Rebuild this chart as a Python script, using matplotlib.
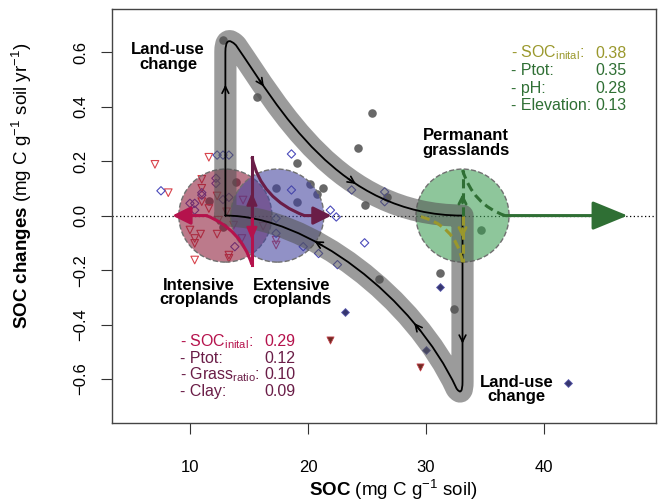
import numpy as np
import matplotlib
matplotlib.use('Agg')
import matplotlib.pyplot as plt
from matplotlib.path import Path
from matplotlib.patches import PathPatch
from math import comb

plt.rcParams['font.family'] = ['Liberation Sans', 'DejaVu Sans']
plt.rcParams['mathtext.fontset'] = 'custom'
plt.rcParams['mathtext.rm'] = 'Liberation Sans'
plt.rcParams['mathtext.it'] = 'Liberation Sans:italic'
plt.rcParams['mathtext.bf'] = 'Liberation Sans:bold'

# --- data -----------------------------------------------------------------
# permanent grasslands (filled grey dots)
grass_soc = [12.8, 15.7, 25.4, 24.2, 19.1, 20.2, 21.3, 20.8, 17.3, 19.1, 13.9,
             11.6, 12.8, 24.8, 26.7, 34.7, 31.2, 32.4, 26.0]
grass_dsoc = [0.644, 0.435, 0.376, 0.248, 0.193, 0.116, 0.101, 0.079, 0.101, 0.050,
              0.123, 0.053, -0.042, 0.039, 0.068, -0.053, -0.211, -0.343, -0.233]

# intensive croplands (open triangles) + two filled outliers
int_soc = [7.03, 11.6, 8.16, 11.0, 11.0, 12.3, 11.0, 11.6, 10.0, 10.9, 10.4, 10.4,
           12.3, 13.3, 13.3, 10.4, 14.5, 14.4, 17.3, 17.3, 13.7, 13.1, 16.2, 12.4]
int_dsoc = [0.188, 0.214, 0.084, 0.133, 0.100, 0.072, 0.051, 0.026, -0.053, -0.068,
            -0.084, -0.102, -0.068, -0.145, -0.157, -0.163, 0.057, -0.084, -0.090,
            -0.108, -0.035, 0.014, -0.039, -0.017]
int_out_soc = [21.9, 29.5]
int_out_dsoc = [-0.457, -0.556]

# extensive croplands (open diamonds) + filled outliers
ext_soc = [12.3, 12.8, 13.3, 7.54, 18.6, 11.0, 11.0, 12.2, 12.2, 10.0, 10.4, 10.4,
           12.8, 13.3, 18.6, 21.9, 22.4, 17.3, 17.3, 19.6, 20.9, 13.8, 23.7, 26.5,
           26.5, 24.8, 22.5]
ext_dsoc = [0.222, 0.222, 0.222, 0.091, 0.226, 0.084, 0.075, 0.137, 0.118, 0.045,
            0.045, 0.020, 0.059, 0.067, 0.094, 0.020, -0.005, -0.010, -0.065, -0.114,
            -0.139, -0.114, 0.094, 0.087, 0.051, -0.100, -0.180]
ext_out_soc = [31.2, 23.1, 30.0, 42.0]
ext_out_dsoc = [-0.262, -0.355, -0.494, -0.615]

# group centres (intensive, extensive, grassland)
centre_soc = [13.0, 17.4, 33.1]
centre_dsoc = [0.0, 0.0, 0.0]

# land-use change loop (schematic path nodes)
loop_soc = [13.0, 13.0, 13.0, 13.9, 17.5, 22.5, 33.1, 33.1, 33.1, 32.6, 29.0, 20.0, 13.0]
loop_dsoc = [0.0, 0.60, 0.665, 0.625, 0.40, 0.0, 0.0, -0.61, -0.665, -0.635, -0.30, 0.0, 0.0]

# variable importance
crop_vars = ['- SOC$_{\\mathrm{inital}}$:', '- Ptot:', '- Grass$_{\\mathrm{ratio}}$:', '- Clay:']
crop_imp = [0.29, 0.12, 0.10, 0.09]
grass_vars = ['- SOC$_{\\mathrm{inital}}$:', '- Ptot:', '- pH:', '- Elevation:']
grass_imp = [0.38, 0.35, 0.28, 0.13]

CRIMSON = '#b5124c'
MAROON = '#6a1d47'
GREEN = '#2f6f34'
OLIVE = '#9a982c'

fig = plt.figure(figsize=(6.61, 5.04), dpi=100)
ax = fig.add_axes([112/661, 81/504, 544/661, 414/504])
ax.set_xlim(3.39, 49.5)
ax.set_ylim(-0.761, 0.758)

ax.axhline(0, color='black', lw=0.9, ls=(0, (1, 2)), zorder=1)

# points
ax.scatter(grass_soc, grass_dsoc, s=38, color='#4d4d4d', alpha=0.85, lw=0, zorder=2)
ax.scatter(int_soc, int_dsoc, s=30, marker='v', facecolor='none', edgecolor='#d8434c', lw=0.8, zorder=2)
ax.scatter(int_out_soc, int_out_dsoc, s=26, marker='v', facecolor='#6e2b22', edgecolor='#c0404a', lw=0.6, zorder=2)
ax.scatter(ext_soc, ext_dsoc, s=18, marker='D', facecolor='none', edgecolor='#4b4bbb', lw=0.8, zorder=2)
ax.scatter(ext_out_soc, ext_out_dsoc, s=16, marker='D', facecolor='#36366e', edgecolor='#5c5cb0', lw=0.6, zorder=2)

# group circles
circle_cols = [(0.55, 0.10, 0.22, 0.58), (0.26, 0.26, 0.62, 0.58), (0.24, 0.62, 0.33, 0.58)]
ax.scatter(centre_soc, centre_dsoc, s=(2 * 33.5) ** 2, c=circle_cols, edgecolors='#707070',
           linewidths=1.0, linestyles='--', zorder=3)

# land-use change loop
codes = [Path.MOVETO, Path.LINETO, Path.CURVE3, Path.CURVE3, Path.CURVE4, Path.CURVE4,
         Path.CURVE4, Path.LINETO, Path.CURVE3, Path.CURVE3, Path.CURVE4, Path.CURVE4, Path.CURVE4]
loop = Path(np.column_stack([loop_soc, loop_dsoc]), codes)
ax.add_patch(PathPatch(loop, fill=False, lw=16, edgecolor=(0.33, 0.33, 0.33, 0.58),
                       capstyle='round', joinstyle='round', zorder=4))
ax.add_patch(PathPatch(loop, fill=False, lw=1.3, edgecolor='black',
                       capstyle='round', joinstyle='round', zorder=5))


def bez(p, t):
    p = np.asarray(p, dtype=float)
    n = len(p) - 1
    return sum(comb(n, k) * (1 - t) ** (n - k) * t ** k * p[k] for k in range(n + 1))


def chevron(ctrl, t, color='black', lw=1.2, ms=12, dt=0.03, z=6, style='->'):
    a = bez(ctrl, t - dt)
    b = bez(ctrl, t)
    ax.annotate('', xy=b, xytext=a,
                arrowprops=dict(arrowstyle=style, color=color, lw=lw, mutation_scale=ms,
                                shrinkA=0, shrinkB=0), zorder=z)


pts = list(zip(loop_soc, loop_dsoc))
chevron([pts[0], pts[1]], 0.8)
chevron(pts[3:7], 0.2)
chevron(pts[3:7], 0.66)
chevron([pts[6], pts[7]], 0.77)
chevron(pts[9:13], 0.25)
chevron(pts[9:13], 0.66)


def curve(ctrl, color, ls='-', lw=2.2, z=7):
    p = Path(ctrl, [Path.MOVETO] + [Path.CURVE3] * (len(ctrl) - 1))
    ax.add_patch(PathPatch(p, fill=False, lw=lw, edgecolor=color, ls=ls, capstyle='butt', zorder=z))


def arrow(a, b, color, lw=2.2, hl=0.8, hw=0.45, ms=14, ls='-', z=7):
    ax.annotate('', xy=b, xytext=a,
                arrowprops=dict(arrowstyle=f'-|>,head_length={hl},head_width={hw}', color=color,
                                lw=lw, ls=ls, mutation_scale=ms, shrinkA=0, shrinkB=0), zorder=z)


# croplands importance fans
xv = 15.25
ax.plot([xv, xv], [0, -0.18], color=CRIMSON, lw=2.2, zorder=7)
arrow((xv, 0), (xv, -0.09), CRIMSON, lw=1.6, hl=0.75, hw=0.32, ms=10)
curve([(xv, -0.18), (14.3, -0.05), (11.4, 0.0)], CRIMSON)
arrow((11.4, 0), (8.5, 0), CRIMSON, hl=0.85, hw=0.42, ms=13)

ax.plot([xv, xv], [0, 0.215], color=MAROON, lw=2.2, zorder=7)
arrow((xv, 0), (xv, 0.085), MAROON, lw=1.6, hl=0.75, hw=0.32, ms=10)
curve([(xv, 0.215), (16.0, 0.06), (19.7, 0.0)], MAROON)
arrow((19.7, 0), (22.0, 0), MAROON, hl=0.85, hw=0.42, ms=13)

# grassland importance fans
xg = 33.1
ax.plot([xg, xg], [0, 0.167], color=GREEN, lw=2.2, ls=(0, (3, 1.6)), zorder=7)
chevron([(xg, 0), (xg, 0.167)], 0.48, color=GREEN, lw=2.0, ms=13, dt=0.2)
curve([(xg, 0.167), (34.0, 0.04), (36.7, 0.0)], GREEN, ls=(0, (3, 1.6)))
arrow((36.7, 0), (47.1, 0), GREEN, hl=1.1, hw=0.45, ms=20)

ax.plot([xg, xg], [0, -0.17], color=OLIVE, lw=2.2, ls=(0, (3, 1.6)), zorder=7)
chevron([(xg, 0), (xg, -0.17)], 0.48, color=OLIVE, lw=2.0, ms=13, dt=0.2)
curve([(xg, -0.17), (32.5, -0.03), (29.2, 0.0)], OLIVE, ls=(0, (3, 1.6)))

# labels on the schematic
lab = dict(ha='center', va='center', fontsize=12, fontweight='bold', linespacing=0.95, zorder=9)
ax.text(8.14, 0.582, 'Land-use\nchange', **lab)
ax.text(37.69, -0.639, 'Land-use\nchange', **lab)
ax.text(33.39, 0.266, 'Permanant\ngrasslands', **lab)
ax.text(10.76, -0.283, 'Intensive\ncroplands', **lab)
ax.text(18.64, -0.283, 'Extensive\ncroplands', **lab)

# importance tables
grass_y = [0.579, 0.516, 0.451, 0.387]
for i, (v, s) in enumerate(zip(grass_vars, grass_imp)):
    c = OLIVE if i == 0 else GREEN
    ax.text(37.25, grass_y[i], v, color=c, fontsize=11.5, ha='left', va='baseline', zorder=9)
    ax.text(47.03, grass_y[i], f'{s:.2f}', color=c, fontsize=11.5, ha='right', va='baseline', zorder=9)

crop_y = [-0.479, -0.540, -0.600, -0.662]
for i, (v, s) in enumerate(zip(crop_vars, crop_imp)):
    c = CRIMSON if i == 0 else MAROON
    ax.text(9.15, crop_y[i], v, color=c, fontsize=11.5, ha='left', va='baseline', zorder=9)
    ax.text(18.96, crop_y[i], f'{s:.2f}', color=c, fontsize=11.5, ha='right', va='baseline', zorder=9)

# axes styling
ax.set_xticks([10, 20, 30, 40])
ax.set_yticks([-0.6, -0.4, -0.2, 0.0, 0.2, 0.4, 0.6])
ax.set_yticklabels(['\u22120.6', '\u22120.4', '\u22120.2', '0.0', '0.2', '0.4', '0.6'])
ax.tick_params(axis='both', direction='out', length=8, width=0.8, color='#333333', labelsize=12)
ax.tick_params(axis='x', pad=19)
ax.tick_params(axis='y', pad=9, labelrotation=90)
for t in ax.get_yticklabels():
    t.set_va('center')
for sp in ax.spines.values():
    sp.set_linewidth(1.0)
    sp.set_color('#444444')

fig.text(393/661, 1 - 490/504, r'$\mathbf{SOC}$ (mg C g$^{-1}$ soil)', ha='center', va='center', fontsize=13.5)
fig.text(22/661, 1 - 186/504, r'$\mathbf{SOC\ changes}$ (mg C g$^{-1}$ soil yr$^{-1}$)',
         ha='center', va='center', rotation=90, fontsize=13.5)

fig.savefig('out.png', dpi=100)
